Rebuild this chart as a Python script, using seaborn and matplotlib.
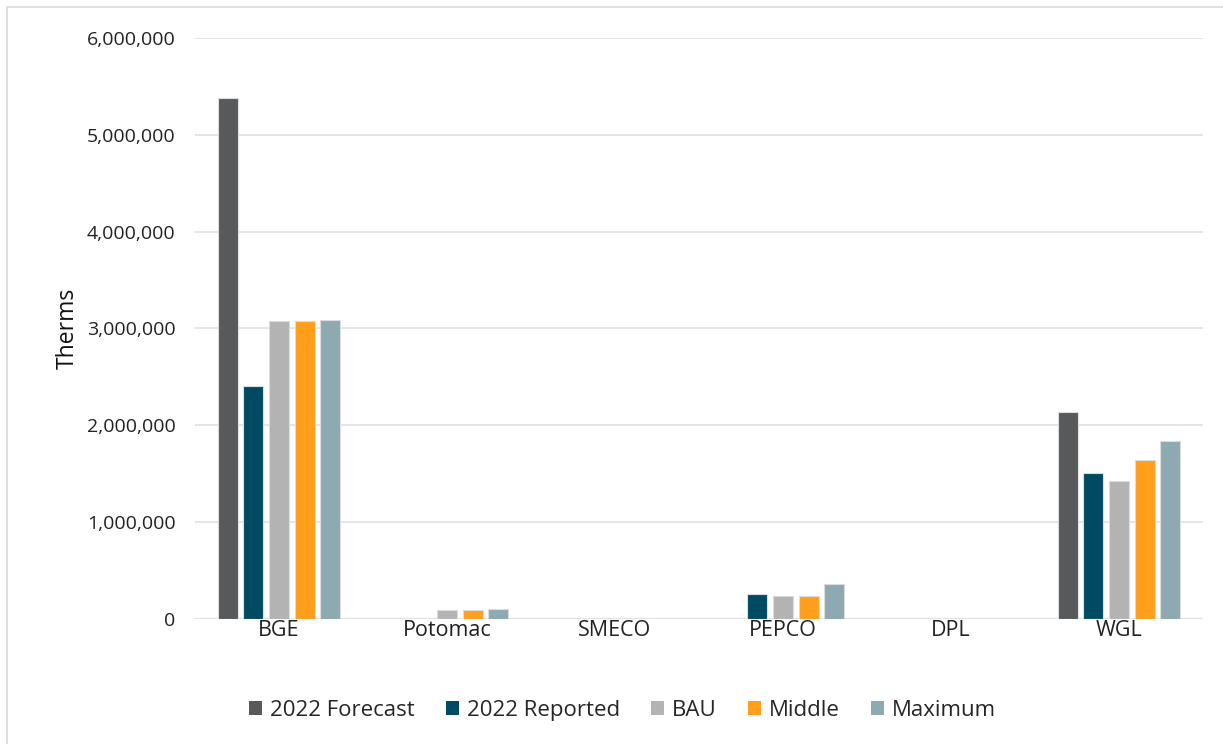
import matplotlib
matplotlib.use("Agg")
import matplotlib.pyplot as plt
from matplotlib.patches import Rectangle
from matplotlib.ticker import FuncFormatter
import seaborn as sns
import pandas as pd

# Utilities and scenario series (therms)
utilities = ["BGE", "Potomac", "SMECO", "PEPCO", "DPL", "WGL"]
series_names = ["2022 Forecast", "2022 Reported", "BAU", "Middle", "Maximum"]
forecast_2022 = [5380000, 0, 0, 0, 0, 2140000]
reported_2022 = [2410000, 0, 0, 260000, 0, 1505000]
bau = [3080000, 95000, 0, 240000, 0, 1430000]
middle = [3080000, 95000, 0, 240000, 0, 1640000]
maximum = [3090000, 106000, 0, 360000, 0, 1840000]
y_ticks = [0, 1000000, 2000000, 3000000, 4000000, 5000000, 6000000]

colors = ["#58595b", "#004b63", "#b3b3b3", "#ff9f1c", "#8da9b1"]

rows = []
for name, vals in zip(series_names,
                      [forecast_2022, reported_2022, bau, middle, maximum]):
    for u, v in zip(utilities, vals):
        rows.append({"Utility": u, "Series": name, "Therms": v})
df = pd.DataFrame(rows)

sns.set_theme(style="white")
plt.rcParams["font.family"] = ["Open Sans", "DejaVu Sans"]

fig = plt.figure(figsize=(12.23, 7.44), dpi=100)
ax = fig.add_axes([0.1594, 0.168, 0.8242, 0.781])

sns.barplot(data=df, x="Utility", y="Therms", hue="Series",
            order=utilities, hue_order=series_names, palette=colors,
            saturation=1, width=0.765, gap=0.22, errorbar=None, ax=ax,
            edgecolor="#dcdcdc", linewidth=0.8, legend=True)

for p in ax.patches:
    if p.get_height() == 0:
        p.set_linewidth(0)

ax.set_ylim(0, 6000000)
ax.set_xlim(-0.5, len(utilities) - 0.5)
ax.set_yticks(y_ticks)
ax.yaxis.set_major_formatter(FuncFormatter(lambda v, _: f"{int(v):,}"))
ax.grid(axis="y", color="#e3e3e3", linewidth=1.3)
ax.set_axisbelow(True)
for s in ax.spines.values():
    s.set_visible(False)
ax.axhline(0, color="#dedede", linewidth=1.6, zorder=0)

ax.tick_params(axis="y", labelsize=14, pad=14, length=0, colors="#222222")
ax.tick_params(axis="x", labelsize=15.5, pad=1, length=0, colors="#222222")
ax.set_xlabel("")
ax.set_ylabel("Therms", fontsize=16.5, labelpad=5, color="#111111")

handles, labels = ax.get_legend_handles_labels()
ax.legend_.remove()
fig.legend(handles, labels, loc="center", bbox_to_anchor=(0.509, 0.045),
           ncol=5, frameon=False, fontsize=16, handlelength=0.6,
           handleheight=0.6, handletextpad=0.35, columnspacing=1.4)

fig.patches.append(Rectangle((7 / 1223, -0.05), 1.2, 1.05 - 7 / 744,
                             transform=fig.transFigure, fill=False,
                             edgecolor="#d9d9d9", linewidth=1.2))

fig.savefig("out.png", dpi=100)
